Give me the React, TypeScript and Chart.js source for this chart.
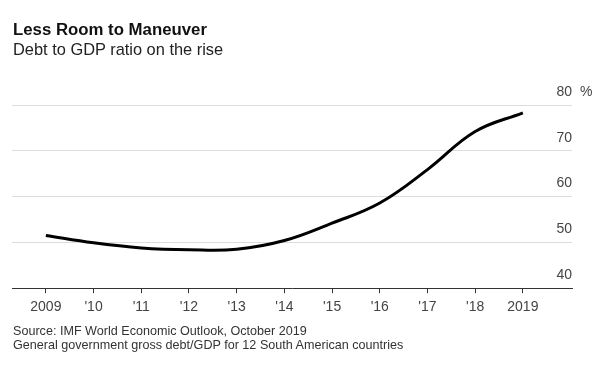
import React, { useEffect, useRef } from "react";
import { Chart, registerables } from "chart.js";

Chart.register(...registerables);

const title = "Less Room to Maneuver";
const subtitle = "Debt to GDP ratio on the rise";
const sourceLine = "Source: IMF World Economic Outlook, October 2019";
const noteLine = "General government gross debt/GDP for 12 South American countries";

const years = [2009, 2010, 2011, 2012, 2013, 2014, 2015, 2016, 2017, 2018, 2019];
const debtRatio = [51.5, 49.9, 48.8, 48.4, 48.5, 50.4, 54.2, 58.6, 65.9, 74.2, 78.3];
const yTickValues = [40, 50, 60, 70, 80];
const unitLabel = "%";

const FONT = "'Liberation Sans', Arial, Helvetica, sans-serif";

export default function App() {
  const canvasRef = useRef<HTMLCanvasElement | null>(null);

  useEffect(() => {
    if (!canvasRef.current) return;
    const percentPlugin = {
      id: "percentUnit",
      afterDraw(chart: any) {
        const ys = chart.scales.y;
        const ctx = chart.ctx;
        const top = yTickValues[yTickValues.length - 1];
        const y = ys.getPixelForValue(top) - 13;
        ctx.save();
        ctx.font = `14px ${FONT}`;
        ctx.fillStyle = "#444";
        ctx.textAlign = "left";
        ctx.textBaseline = "middle";
        ctx.fillText(unitLabel, chart.chartArea.right + 8, y);
        ctx.restore();
      },
    };

    const chart = new Chart(canvasRef.current, {
      type: "line",
      data: {
        datasets: [
          {
            data: years.map((x, i) => ({ x, y: debtRatio[i] })),
            borderColor: "#000",
            borderWidth: 3,
            pointRadius: 0,
            tension: 0.4,
            fill: false,
          },
        ],
      },
      options: {
        animation: false,
        responsive: true,
        maintainAspectRatio: false,
        layout: { padding: { left: 12, right: 28, top: 105, bottom: 62 } },
        plugins: {
          legend: { display: false },
          tooltip: { enabled: false },
        },
        scales: {
          x: {
            type: "linear",
            min: 2008.29,
            max: 2020.03,
            afterBuildTicks: (scale: any) => {
              scale.ticks = years.map((v) => ({ value: v }));
            },
            grid: {
              display: true,
              drawOnChartArea: false,
              drawTicks: true,
              tickLength: 5,
              color: "#333",
            },
            border: { display: true, color: "#333", width: 1 },
            ticks: {
              padding: 6,
              maxRotation: 0,
              autoSkip: false,
              color: "#444",
              font: { family: FONT, size: 14 },
              callback: (v: any) => {
                const n = Number(v);
                if (n === years[0] || n === years[years.length - 1]) return String(n);
                return "'" + String(n).slice(2);
              },
            },
          },
          y: {
            position: "right",
            min: 40,
            max: 80,
            afterBuildTicks: (scale: any) => {
              scale.ticks = yTickValues.map((v) => ({ value: v }));
            },
            grid: {
              drawTicks: false,
              color: (ctx: any) => (ctx.tick && ctx.tick.value === 40 ? "rgba(0,0,0,0)" : "#dcdcdc"),
              lineWidth: 1,
            },
            border: { display: false },
            ticks: {
              mirror: true,
              padding: 0,
              labelOffset: -13,
              color: "#444",
              font: { family: FONT, size: 14 },
            },
          },
        },
      },
      plugins: [percentPlugin],
    } as any);
    return () => chart.destroy();
  }, []);

  const textBase: React.CSSProperties = {
    position: "absolute",
    left: 13,
    fontFamily: FONT,
    whiteSpace: "nowrap",
    margin: 0,
  };

  return (
    <div style={{ position: "absolute", left: 0, top: 0, width: 600, height: 384, background: "#fff" }}>
      <canvas ref={canvasRef} style={{ position: "absolute", left: 0, top: 0, width: 600, height: 384 }} />
      <div style={{ ...textBase, top: 20, fontSize: 16.8, lineHeight: "20px", fontWeight: 700, color: "#111" }}>{title}</div>
      <div style={{ ...textBase, top: 40, fontSize: 16.4, lineHeight: "19px", color: "#222" }}>{subtitle}</div>
      <div style={{ ...textBase, top: 325, fontSize: 12.6, lineHeight: "13.5px", color: "#333" }}>
        <div>{sourceLine}</div>
        <div>{noteLine}</div>
      </div>
    </div>
  );
}
